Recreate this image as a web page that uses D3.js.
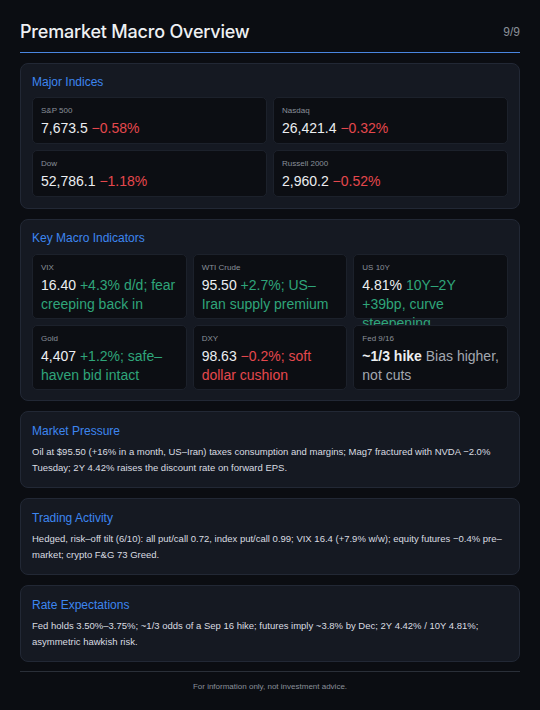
<!DOCTYPE html>
<html><head><meta charset="utf-8">
<script src="https://cdn.jsdelivr.net/npm/d3@7"></script>
<style>
*{box-sizing:border-box;margin:0;padding:0}
body{width:540px;height:710px;background:#0b0d12;font-family:"Liberation Sans",Arial,sans-serif;color:#e6e8ec;overflow:hidden}
#wrap{position:absolute;left:20px;top:0;width:500px}
.hdr{height:53px;border-bottom:1px solid #4a86e0;display:flex;justify-content:space-between;align-items:flex-end;padding-bottom:10px}
.hdr h1{font-size:18px;font-weight:500;color:#eef0f3;font-family:Inter,sans-serif;letter-spacing:-0.2px}
.hdr span{font-size:12px;color:#8a9099;padding-bottom:3px}
.card{background:#151922;border:1px solid #222835;border-radius:8px;padding:11px;margin-top:10px}
.ct{color:#3d86f0;font-size:12px;margin-bottom:8px}
.grid{display:grid;gap:6px}
.cell{background:#0c0e13;border:1px solid #1c212b;border-radius:5px;padding:8px 8px}
.lab{font-size:8px;color:#8a909a;margin-bottom:4px}
.val{font-size:14px;line-height:19px;color:#eceef1}
.pos{color:#2fa57a}.neg{color:#e5484d}.neu{color:#a3a8b0}
.txt{font-size:9.5px;line-height:16px;color:#d9dce1}
.foot{margin-top:9px;border-top:1px solid #2a2f38;text-align:center;font-size:8px;color:#8a909a;padding-top:10px}
</style></head><body><div id="wrap"></div>
<script>
const title="Premarket Macro Overview", page="9/9";
const indexNames=["S&P 500","Nasdaq","Dow","Russell 2000"];
const indexValues=["7,673.5","26,421.4","52,786.1","2,960.2"];
const indexChanges=["−0.58%","−0.32%","−1.18%","−0.52%"];
const indNames=["VIX","WTI Crude","US 10Y","Gold","DXY","Fed 9/16"];
const indValues=["16.40","95.50","4.81%","4,407","98.63","~1/3 hike"];
const indNotes=["+4.3% d/d; fear creeping back in","+2.7%; US–Iran supply premium","10Y–2Y +39bp, curve steepening","+1.2%; safe–haven bid intact","−0.2%; soft dollar cushion","Bias higher, not cuts"];
const indTone=["pos","pos","pos","pos","neg","neu"];
const textTitles=["Market Pressure","Trading Activity","Rate Expectations"];
const textBodies=["Oil at $95.50 (+16% in a month, US–Iran) taxes consumption and margins; Mag7 fractured with NVDA −2.0% Tuesday; 2Y 4.42% raises the discount rate on forward EPS.",
"Hedged, risk–off tilt (6/10): all put/call 0.72, index put/call 0.99; VIX 16.4 (+7.9% w/w); equity futures −0.4% pre–market; crypto F&G 73 Greed.",
"Fed holds 3.50%–3.75%; ~1/3 odds of a Sep 16 hike; futures imply ~3.8% by Dec; 2Y 4.42% / 10Y 4.81%; asymmetric hawkish risk."];
const footer="For information only, not investment advice.";

const w=d3.select("#wrap");
const h=w.append("div").attr("class","hdr");
h.append("h1").text(title);h.append("span").text(page);

let c=w.append("div").attr("class","card").style("height","146px");
c.append("div").attr("class","ct").text("Major Indices");
let g=c.append("div").attr("class","grid").style("grid-template-columns","1fr 1fr");
g.selectAll(".cell").data(indexNames).join("div").attr("class","cell").style("height","47px").each(function(d,i){
  const s=d3.select(this);s.append("div").attr("class","lab").text(d);
  const v=s.append("div").attr("class","val");v.append("span").text(indexValues[i]+" ");v.append("span").attr("class","neg").text(indexChanges[i]);
});

c=w.append("div").attr("class","card").style("height","182px");
c.append("div").attr("class","ct").style("margin-bottom","9px").text("Key Macro Indicators");
g=c.append("div").attr("class","grid").style("grid-template-columns","1fr 1fr 1fr");
g.selectAll(".cell").data(indNames).join("div").attr("class","cell").style("height","65px").each(function(d,i){
  const s=d3.select(this);s.append("div").attr("class","lab").text(d);
  const v=s.append("div").attr("class","val");v.append("span").style("font-weight",i==5?700:400).text(indValues[i]+" ");v.append("span").attr("class",indTone[i]).text(indNotes[i]);
});

textTitles.forEach((t,i)=>{
  const k=w.append("div").attr("class","card").style("height","77px");
  k.append("div").attr("class","ct").style("margin-bottom","6px").style("margin-top","1px").text(t);
  k.append("div").attr("class","txt").text(textBodies[i]);
});
w.append("div").attr("class","foot").text(footer);
</script></body></html>
